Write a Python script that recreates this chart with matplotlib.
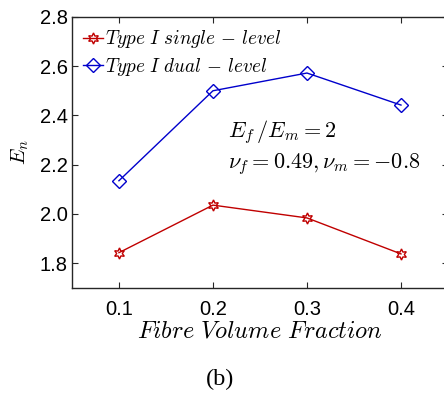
import matplotlib
matplotlib.use("Agg")
import matplotlib.pyplot as plt

plt.rcParams['mathtext.fontset'] = 'cm'
plt.rcParams['font.family'] = ['Liberation Sans', 'DejaVu Sans']

fraction = [0.1, 0.2, 0.3, 0.4]
single_level = [1.843, 2.036, 1.984, 1.838]
dual_level = [2.135, 2.500, 2.572, 2.442]
x_ticks = [0.1, 0.2, 0.3, 0.4]
y_ticks = [1.8, 2.0, 2.2, 2.4, 2.6, 2.8]

fig = plt.figure(figsize=(4.44, 4.01), dpi=100)
# axes run past the right edge of the figure
ax = fig.add_axes([0.162, 0.282, 0.847, 0.676])

ax.plot(fraction, single_level, color='#c00000', lw=1.0, marker=(6, 1, 0),
        ms=8, mfc='none', mec='#c00000', mew=1.0,
        label=r'$Type\ I\ single\,-\,level$')
ax.plot(fraction, dual_level, color='#0000cc', lw=1.0, marker='D',
        ms=7, mfc='none', mec='#0000cc', mew=1.0,
        label=r'$Type\ I\ dual\,-\,level$')

ax.set_xlim(0.05, 0.45)
ax.set_ylim(1.7, 2.8)
ax.set_xticks(x_ticks)
ax.set_xticklabels(['0.1', '0.2', '0.3', '0.4'])
ax.set_yticks(y_ticks)
ax.set_yticklabels(['%.1f' % v for v in y_ticks])
ax.tick_params(direction='in', labelsize=14.5, length=4, width=0.8,
               top=True, right=True, color='#262626')
ax.tick_params(axis='x', pad=9)
ax.tick_params(axis='y', pad=3)
for s in ax.spines.values():
    s.set_color('#262626')
    s.set_linewidth(1.0)

ax.set_xlabel(r'$Fibre\ Volume\ Fraction$', fontsize=17.5, labelpad=1)
ax.set_ylabel(r'$E_n$', fontsize=15, labelpad=6)

ax.legend(loc='upper left', frameon=False, fontsize=13.8, handlelength=1.0,
          handletextpad=0.1, borderaxespad=0.3, labelspacing=0.3,
          borderpad=0.3)

ax.text(0.216, 2.31, r'$E_f\,/E_m = 2$', fontsize=16, va='baseline')
ax.text(0.216, 2.184, r'$\nu_f = 0.49, \nu_m = -0.8$', fontsize=16,
        va='baseline')

fig.text(0.495, 0.053, '(b)', ha='center', va='center', fontsize=17.5,
         family='Liberation Serif')

fig.savefig('out.png', dpi=100)
